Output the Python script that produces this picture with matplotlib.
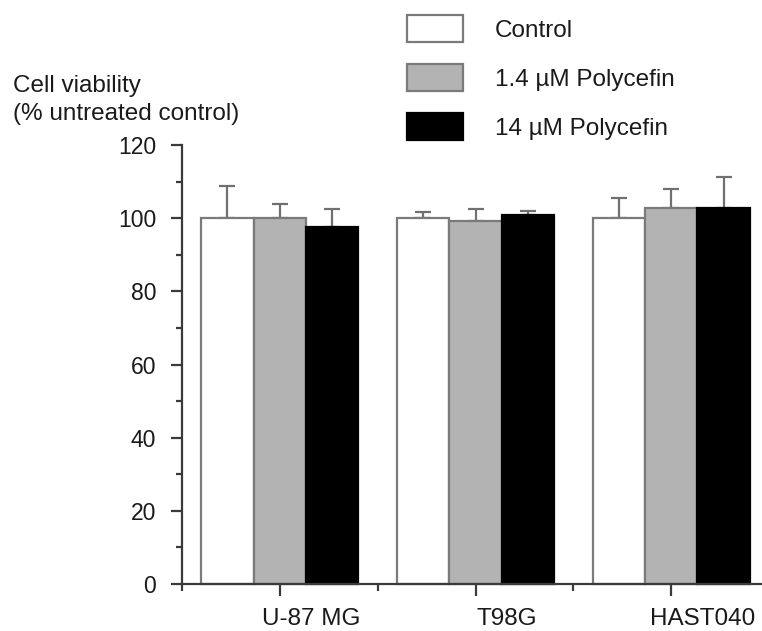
import matplotlib
matplotlib.use("Agg")
import matplotlib.pyplot as plt
import numpy as np
from matplotlib.transforms import ScaledTranslation
from matplotlib.ticker import MultipleLocator

plt.rcParams['font.family'] = ['Liberation Sans', 'DejaVu Sans']

cell_lines = ["U-87 MG", "T98G", "HAST040"]
series_labels = ["Control", "1.4 \u00b5M Polycefin", "14 \u00b5M Polycefin"]
control = [100.0, 100.0, 100.0]
low_dose = [100.0, 99.2, 102.9]
high_dose = [97.7, 100.9, 102.9]
control_err = [8.8, 1.8, 5.4]
low_err = [3.8, 3.2, 5.0]
high_err = [4.8, 1.1, 8.4]

fills = ["#ffffff", "#b3b3b3", "#000000"]
edges = ["#7a7a7a", "#7a7a7a", "#000000"]

fig = plt.figure(figsize=(7.62, 6.31), dpi=100)
W, H = 762, 631
x_left, x_right = 182, 769
y_bot, y_top = 584, 145
ax = fig.add_axes([x_left / W, 1 - y_bot / H, (x_right - x_left) / W, (y_bot - y_top) / H])

x = np.arange(len(cell_lines))
bw = 0.268
values = [control, low_dose, high_dose]
errs = [control_err, low_err, high_err]
handles = []
for i, (v, e) in enumerate(zip(values, errs)):
    pos = x + (i - 1) * bw
    b = ax.bar(pos, v, width=bw, color=fills[i], edgecolor=edges[i], linewidth=1.6,
               label=series_labels[i], zorder=2, clip_on=False)
    ax.errorbar(pos, v, yerr=[np.zeros(len(e)), e], fmt='none', ecolor='#707070',
                elinewidth=1.6, capsize=6, capthick=1.6, zorder=1, clip_on=False)
    handles.append(b)

ax.set_xlim(-0.5, 2.5)
ax.set_ylim(0, 120)
ax.spines['top'].set_visible(False)
ax.spines['right'].set_visible(False)
for s in ('left', 'bottom'):
    ax.spines[s].set_color('#3a3a3a')
    ax.spines[s].set_linewidth(1.6)

ax.set_yticks(np.arange(0, 121, 20))
ax.yaxis.set_minor_locator(MultipleLocator(10))
ax.tick_params(axis='y', which='major', length=7.6, width=1.6, color='#3a3a3a',
               labelsize=16.5, pad=11, direction='out', labelcolor='#1a1a1a')
ax.tick_params(axis='y', which='minor', length=4.3, width=1.6, color='#3a3a3a', direction='out')

ax.set_xticks(x)
ax.set_xticklabels(cell_lines)
ax.set_xticks([-0.5, 0.5, 1.5], minor=True)
ax.tick_params(axis='x', which='major', length=8.6, width=1.6, color='#3a3a3a',
               labelsize=17.5, pad=9, direction='out', labelcolor='#1a1a1a')
ax.tick_params(axis='x', which='minor', length=5, width=1.6, color='#3a3a3a', direction='out')
offset = ScaledTranslation(31 / 100, 0, fig.dpi_scale_trans)
for lab in ax.get_xticklabels():
    lab.set_transform(lab.get_transform() + offset)

fig.text(13 / W, 1 - 75 / H, "Cell viability\n(% untreated control)", fontsize=17.5,
         ha='left', va='top', linespacing=1.36, color='#1a1a1a')

leg = fig.legend(handles=handles, labels=series_labels, loc='upper left',
                 bbox_to_anchor=(407 / W, 1 - 15 / H), frameon=False, fontsize=17.5,
                 handlelength=2.3, handleheight=1.35, handletextpad=1.32,
                 labelspacing=0.89, borderpad=0, borderaxespad=0)
for t in leg.get_texts():
    t.set_color('#1a1a1a')

fig.savefig("out.png", dpi=100)
